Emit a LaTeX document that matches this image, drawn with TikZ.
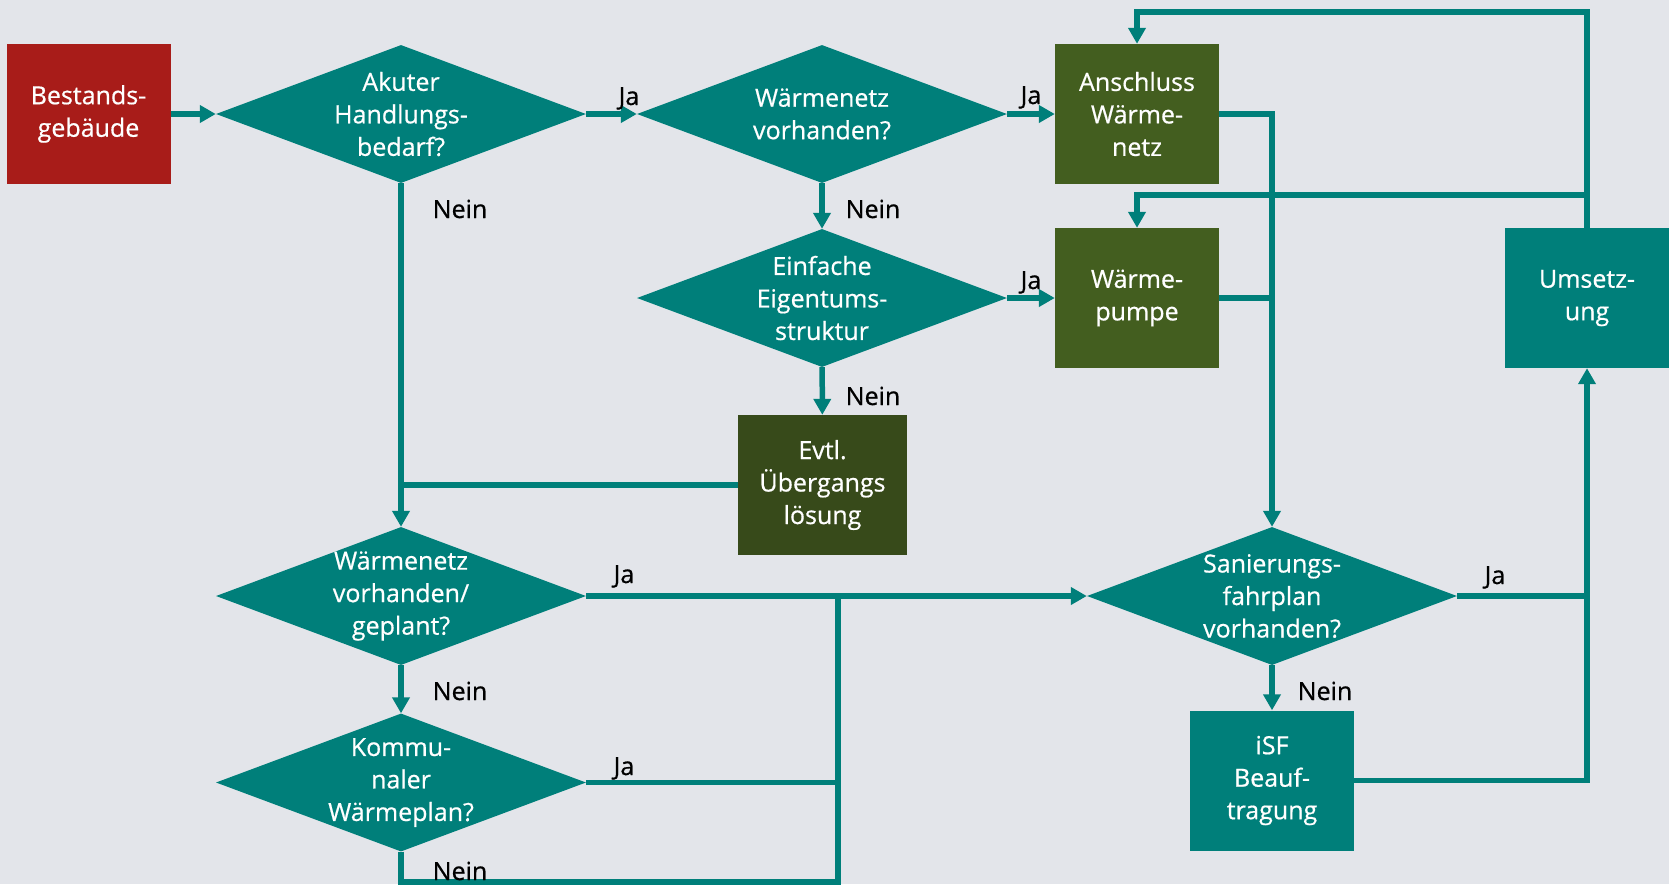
\documentclass[tikz,border=0pt]{standalone}
\usepackage{fontspec}
\setmainfont{Open Sans}[FakeBold=0.6]
\usetikzlibrary{shapes.geometric,arrows.meta}
\definecolor{hg}{HTML}{E3E5EA}
\definecolor{petrol}{HTML}{007F7A}
\definecolor{ziegel}{HTML}{A81C19}
\definecolor{oliv}{HTML}{435E1F}
\definecolor{olivdunkel}{HTML}{374A1A}
\tikzset{
  feld/.style={rectangle, minimum width=164pt, minimum height=140pt, inner sep=0pt,
    text=white, align=center, font=\fontsize{25}{32.5}\selectfont},
  raute/.style={diamond, fill=petrol, aspect=2.68, minimum width=370pt, minimum height=138pt,
    inner sep=-6pt, text=white, align=center, font=\fontsize{25}{32.5}\selectfont},
  linie/.style={draw=petrol, line width=5.5pt},
  pfeil/.style={linie, -{Triangle[length=16pt,width=17pt]}},
  lbl/.style={anchor=base, text=black, font=\fontsize{25}{28}\selectfont}
}
\begin{document}
\begin{tikzpicture}[x=1pt,y=-1pt]
    \path[use as bounding box, fill=hg] (0,0) rectangle (1669,884);

    \node[feld, fill=ziegel] (r1c1) at (88.5,114) {Bestands-\\gebäude};
    \node[raute] (r1c2) at (401,114) {Akuter\\Handlungs-\\bedarf?};
    \node[raute] (r1c3) at (822,114) {Wärmenetz\\vorhanden?};
    \node[feld, fill=oliv] (r1c4) at (1137,114) {Anschluss\\Wärme-\\netz};

    \node[raute] (r2c3) at (822,298) {Einfache\\Eigentums-\\struktur};
    \node[feld, fill=oliv] (r2c4) at (1137,298) {Wärme-\\pumpe};
    \node[feld, fill=petrol] (r2c6) at (1587,298) {Umsetz-\\ung};

    \node[feld, fill=olivdunkel, minimum width=169pt] (r3c3) at (822.5,485) {Evtl.\\Übergangs\\lösung};

    \node[raute] (r4c2) at (401,596) {Wärmenetz\\vorhanden/\\geplant?};
    \node[raute] (r4c5) at (1272,596) {Sanierungs-\\fahrplan\\vorhanden?};

    \node[raute] (r5c2) at (401,782.5) {Kommu-\\naler\\Wärmeplan?};
    \node[feld, fill=petrol] (r5c5) at (1272,780.5) {iSF\\Beauf-\\tragung};

    \coordinate (k1) at (838,596);
    \coordinate (k2) at (838,882);
    \coordinate (k3) at (1587,12);
    \coordinate (k4) at (1587,195);

    \draw[pfeil] (r1c1) -- (r1c2);
    \draw[pfeil] (r1c2) -- (r1c3);
    \draw[pfeil] (r1c3) -- (r1c4);
    \draw[pfeil] (r1c3) -- (r2c3);
    \draw[pfeil] (r2c3) -- (r2c4);
    \draw[pfeil] (r2c3) -- (r3c3);
    \draw[pfeil] (r1c2) -- (r4c2);
    \draw[linie] (r3c3) -- (r3c3 -| r1c2);
    \draw[pfeil] (r4c2) -- (r4c5);
    \draw[pfeil] (r4c2) -- (r5c2);
    \draw[linie] (r5c2.east) -- (k1 |- r5c2);
    \draw[linie] (r5c2.south) |- (k2) -- (k1);
    \draw[pfeil] (r1c4.east) -| (r4c5.north);
    \draw[linie] (r2c4.east) -- (r2c4 -| r4c5);
    \draw[pfeil] (r4c5.east) -| (r2c6.south);
    \draw[linie] (r5c5.east) -| (r4c5 -| r2c6);
    \draw[pfeil] (r4c5) -- (r5c5);
    \draw[pfeil] (r2c6.north) -- (k3) -| (r1c4.north);
    \draw[pfeil] (k4) -| (r2c4.north);

    \node[lbl] (ja1) at (629,105) {Ja};
    \node[lbl] (ja2) at (1031,104) {Ja};
    \node[lbl] (ja3) at (1031,289) {Ja};
    \node[lbl] (ja4) at (624,583) {Ja};
    \node[lbl] (ja5) at (624,775) {Ja};
    \node[lbl] (ja6) at (1495,584) {Ja};
    \node[lbl] (nein1) at (460,218) {Nein};
    \node[lbl] (nein2) at (873,218) {Nein};
    \node[lbl] (nein3) at (873,405) {Nein};
    \node[lbl] (nein4) at (460,700) {Nein};
    \node[lbl] (nein5) at (460,880) {Nein};
    \node[lbl] (nein6) at (1325,700) {Nein};
\end{tikzpicture}
\end{document}
